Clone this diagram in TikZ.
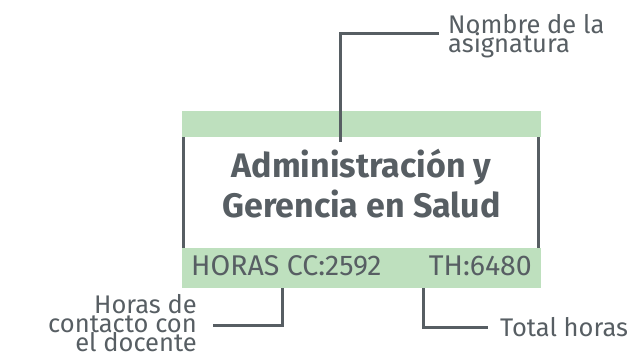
\documentclass[tikz,border=0pt]{standalone}
\usepackage{fontspec}
\setmainfont{Fira Sans}
\usetikzlibrary{positioning}

\definecolor{barraverde}{RGB}{190,224,190}
\definecolor{grisoscuro}{RGB}{87,94,99}

\newcommand{\fuentetitulo}{\fontsize{34}{40}\selectfont\bfseries}
\newcommand{\fuentebarra}{\fontsize{28.5}{30}\selectfont}
\newcommand{\fuenteetiqueta}{\fontsize{25.5}{19}\selectfont\lineskiplimit=-50pt}

\tikzset{
	barra/.style={fill=barraverde, minimum width=359pt, inner sep=0pt},
	conector/.style={draw=grisoscuro, line width=3pt},
	etiqueta/.style={text=grisoscuro, font=\fuenteetiqueta, inner sep=0pt},
	numeros/.style={text=grisoscuro, font=\fuentebarra, inner sep=0pt},
}

\begin{document}
\begin{tikzpicture}[x=1pt, y=-1pt]
	\useasboundingbox (0,0) rectangle (633,353);
	% barras verdes y bordes
	\node[barra, minimum height=26pt] (barrasup) at (361.5,124) {};
	\node[barra, minimum height=40pt] (barrainf) at (361.5,268) {};
	\foreach \lado/\dx in {west/2, east/-3}
		\draw[conector] ([xshift=\dx pt]barrasup.south \lado) -- ([xshift=\dx pt]barrainf.north \lado);
	% textos
	\node[text=grisoscuro, font=\fuentetitulo, align=center] (titulo) at (361.5,184) {Administración y\\Gerencia en Salud};
	\node[numeros, anchor=base west] (horascc) at (191,275) {HORAS CC:2592};
	\node[numeros, anchor=base east] (th) at (532,275) {TH:6480};
	% etiquetas
	\node[etiqueta, anchor=north west, align=left] (nombre) at (448,14) {Nombre de la\\asignatura};
	\node[etiqueta, anchor=north east, align=right] (contacto) at (197,294) {Horas de\\contacto con\\el docente};
	\node[etiqueta, anchor=west] (total) at (500,327) {Total horas};
	% conectores
	\coordinate (pnombre) at (340,142);
	\coordinate (pcc) at (282,288);
	\coordinate (pth) at (423,288);
	\draw[conector] (pnombre) |- ([shift={(-9,20)}]nombre.north west);
	\draw[conector] (pcc) |- ([shift={(16,31)}]contacto.north east);
	\draw[conector] (pth) |- ([xshift=-12pt]total.west);
\end{tikzpicture}
\end{document}
